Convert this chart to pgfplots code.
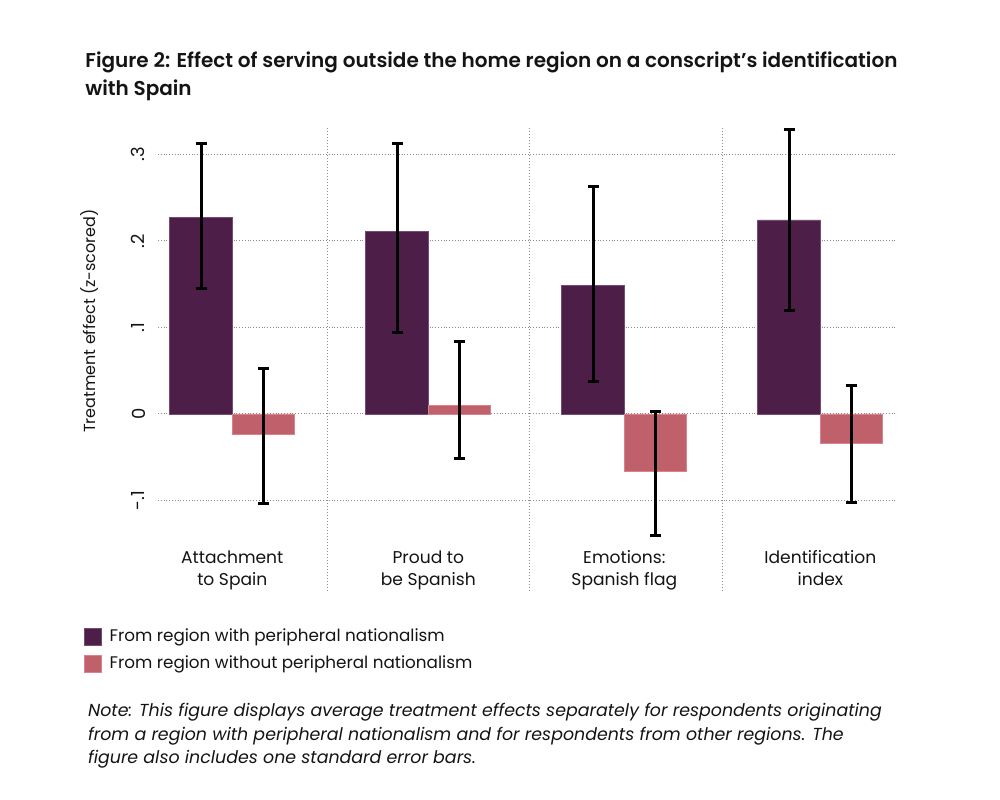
\documentclass[border=0pt]{standalone}
\usepackage{pgfplots}
\pgfplotsset{compat=1.18}
\usepackage{pgfplotstable}
\usepackage{fontspec}
\setmainfont{Poppins}[BoldFont={Poppins SemiBold}]
\definecolor{darkp}{RGB}{76,30,72}
\definecolor{darkedge}{RGB}{120,75,115}
\definecolor{pinkp}{RGB}{192,96,106}
\definecolor{pinkedge}{RGB}{215,130,140}
\definecolor{txt}{RGB}{20,20,20}
\pgfplotstableread{
x y ep em
0 0.2270 0.0860 0.0820
1 0.2105 0.1025 0.1160
2 0.1488 0.1144 0.1110
3 0.2243 0.1047 0.1043
}\darktab
\pgfplotstableread{
x y ep em
0 -0.0231 0.0751 0.0809
1 0.0102 0.0732 0.0611
2 -0.0663 0.0690 0.0747
3 -0.0335 0.0662 0.0685
}\pinktab
\begin{document}
\begin{tikzpicture}[x=1pt,y=1pt]
\useasboundingbox (0,0) rectangle (500,399.5);
\begin{axis}[
  at={(79pt,129.5pt)}, anchor=south west,
  scale only axis, width=369.5pt, height=206pt,
  xmin=-0.379, xmax=3.391, ymin=-0.1457, ymax=0.3306,
  ybar=0pt, bar width=0.319,
  axis line style={draw=none},
  major tick length=0pt,
  xtick={0,1,2,3},
  xticklabels={{Attachment\\to Spain},{Proud to\\be Spanish},{Emotions:\\Spanish flag},{Identification\\index}},
  xticklabel style={align=center, font=\fontsize{8.55}{11}\selectfont, text=txt, inner sep=0pt},
  xticklabel shift=5pt,
  ytick={-0.1,0,0.1,0.2,0.3},
  yticklabels={-.1,0,.1,.2,.3},
  yticklabel style={rotate=90, anchor=south, inner sep=0pt, font=\fontsize{9}{11}\selectfont, text=txt},
  yticklabel shift=6.25pt,
  ymajorgrids,
  grid style={black!45, densely dotted, line width=0.5pt},
  clip=false,
  legend style={at={(axis description cs:-0.101,-0.205)}, anchor=north west, draw=none, fill=none,
    font=\fontsize{8.4}{10}\selectfont, text=txt, inner sep=0pt, row sep=1.7pt, column sep=2pt, cells={anchor=west}},
  legend image code/.code={\fill[#1] (0pt,-4.25pt) rectangle (8.5pt,4.25pt);},
]
\draw[black!45, densely dotted, line width=0.5pt] (axis cs:0.488,0.3306) -- (axis cs:0.488,-0.2058);
\draw[black!45, densely dotted, line width=0.5pt] (axis cs:1.514,0.3306) -- (axis cs:1.514,-0.2058);
\draw[black!45, densely dotted, line width=0.5pt] (axis cs:2.503,0.3306) -- (axis cs:2.503,-0.2058);
\addplot[fill=darkp, draw=darkedge, line width=0.4pt,
  error bars/.cd, y dir=both, y explicit,
  error bar style={black, line width=1.5pt},
  error mark options={rotate=90, black, mark size=2.75pt, line width=1.5pt}]
  table[x=x, y=y, y error plus=ep, y error minus=em] {\darktab};
\addlegendentry{From region with peripheral nationalism}
\addplot[fill=pinkp, draw=pinkedge, line width=0.4pt,
  error bars/.cd, y dir=both, y explicit,
  error bar style={black, line width=1.5pt},
  error mark options={rotate=90, black, mark size=2.75pt, line width=1.5pt}]
  table[x=x, y=y, y error plus=ep, y error minus=em] {\pinktab};
\addlegendentry{From region without peripheral nationalism}
\end{axis}
\node[anchor=base west, inner sep=0pt, text=txt, font=\fontsize{10}{12}\selectfont\bfseries] at (42.5,365.5) {Figure 2: Effect of serving outside the home region on a conscript’s identification};
\node[anchor=base west, inner sep=0pt, text=txt, font=\fontsize{10}{12}\selectfont\bfseries] at (42.5,351.5) {with Spain};
\node[rotate=90, inner sep=0pt, text=txt, font=\fontsize{8}{10}\selectfont] at (45,239) {Treatment effect (z-scored)};
\node[anchor=base west, inner sep=0pt, text=txt, font=\fontsize{8.7}{10}\selectfont\itshape] at (43.85,41.15) {Note: This figure displays average treatment effects separately for respondents originating};
\node[anchor=base west, inner sep=0pt, text=txt, font=\fontsize{8.7}{10}\selectfont\itshape] at (43.85,29.4) {from a region with peripheral nationalism and for respondents from other regions. The};
\node[anchor=base west, inner sep=0pt, text=txt, font=\fontsize{8.7}{10}\selectfont\itshape] at (43.85,17.65) {figure also includes one standard error bars.};
\end{tikzpicture}
\end{document}
